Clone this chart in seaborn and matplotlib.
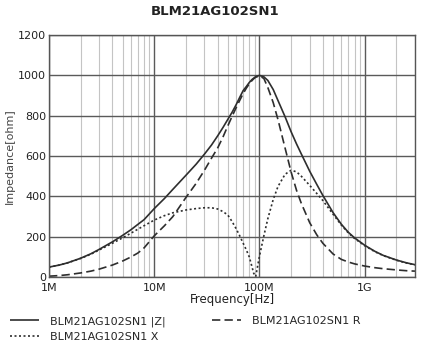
import numpy as np
import pandas as pd
import matplotlib
matplotlib.use("Agg")
import matplotlib.pyplot as plt
import seaborn as sns

# frequency points in MHz
freq_mhz = [1, 1.25, 1.5, 2, 2.5, 3, 4, 5, 6, 7, 8, 10, 12.5, 15, 20, 25, 30,
            35, 40, 45, 50, 55, 60, 65, 70, 75, 80, 85, 88, 92, 100, 110, 120,
            135, 150, 175, 200, 225, 250, 300, 350, 400, 500, 600, 700, 800,
            1000, 1250, 1500, 2000, 2500, 3000]
z_vals = [50, 60, 71, 94, 116, 138, 175, 207, 235, 262, 285, 340, 390, 435,
          505, 560, 610, 655, 700, 742, 782, 818, 855, 892, 925, 945, 965, 980,
          986, 994, 1000, 993, 975, 930, 875, 795, 720, 660, 610, 525, 460, 405,
          320, 262, 222, 195, 158, 128, 108, 85, 71, 62]
r_vals = [5, 8, 12, 21, 30, 40, 60, 80, 100, 120, 145, 205, 255, 300, 395, 465,
          530, 590, 640, 695, 750, 798, 840, 877, 910, 937, 958, 975, 983, 991,
          997, 985, 940, 865, 780, 640, 520, 430, 365, 270, 210, 168, 115, 88,
          75, 66, 55, 47, 42, 36, 32, 30]
x_vals = [50, 60, 71, 93, 114, 135, 168, 195, 218, 238, 255, 283, 305, 319,
          333, 340, 344, 344, 338, 325, 308, 275, 240, 204, 168, 135, 100, 50,
          20, 3, 105, 205, 290, 385, 450, 510, 530, 522, 500, 455, 415, 380, 312,
          258, 219, 192, 156, 126, 107, 84, 70, 61]

labels = ["BLM21AG102SN1 |Z|", "BLM21AG102SN1 R", "BLM21AG102SN1 X"]

df = pd.concat([
    pd.DataFrame({"f": np.array(freq_mhz) * 1e6, "v": vals, "s": lab})
    for vals, lab in zip([z_vals, r_vals, x_vals], labels)
])

sns.set_style("white")
narrow = ["Liberation Sans Narrow", "DejaVu Sans"]

fig = plt.figure(figsize=(4.3, 3.54), dpi=100)
ax = fig.add_axes([0.114, 0.217, 0.851, 0.684])

styles = {labels[0]: (0, ()), labels[1]: (0, (5, 2.5)), labels[2]: (0, (1.2, 1.5))}
for lab in [labels[0], labels[2], labels[1]]:
    sns.lineplot(data=df[df.s == lab], x="f", y="v", ax=ax, color="#2e2e2e",
                 linewidth=1.2, linestyle=styles[lab], label=lab)

ax.set_xscale("log")
ax.set_xlim(1e6, 3e9)
ax.set_ylim(0, 1200)
ax.set_yticks(range(0, 1201, 200))
ax.set_xticks([1e6, 1e7, 1e8, 1e9])
ax.set_xticklabels(["1M", "10M", "100M", "1G"], family=narrow, fontsize=8, color="#222")
ax.set_yticklabels([str(v) for v in range(0, 1201, 200)], family=narrow, fontsize=8, color="#222")
ax.xaxis.set_minor_locator(matplotlib.ticker.LogLocator(base=10, subs=np.arange(2, 10)))
ax.xaxis.set_minor_formatter(matplotlib.ticker.NullFormatter())
ax.tick_params(axis="x", which="both", length=0, pad=4)
ax.tick_params(axis="y", which="both", length=0, pad=2)

ax.grid(True, which="major", color="#5a5a5a", linewidth=1.0)
ax.grid(True, which="minor", axis="x", color="#c4c4c4", linewidth=0.8)
for sp in ax.spines.values():
    sp.set_color("#555")
    sp.set_linewidth(1.0)

ax.set_xlabel("Frequency[Hz]", family=narrow, fontsize=8.5, color="#222", labelpad=0)
ax.set_ylabel("Impedance[ohm]", family=narrow, fontsize=8, color="#444", labelpad=2)

handles, labs = ax.get_legend_handles_labels()
order = [labs.index(labels[0]), labs.index(labels[2]), labs.index(labels[1])]
fig.legend([handles[i] for i in order], [labs[i] for i in order], ncol=2,
           loc="upper left", bbox_to_anchor=(0.0, 0.135), frameon=False,
           prop={"family": narrow, "size": 8}, handlelength=2.6,
           columnspacing=4.2, labelspacing=0.45, handletextpad=1.0)
ax.get_legend().remove()

fig.suptitle("BLM21AG102SN1", fontsize=9.5, fontweight="bold", y=0.985, color="#222")

fig.savefig("out.png", dpi=100)
